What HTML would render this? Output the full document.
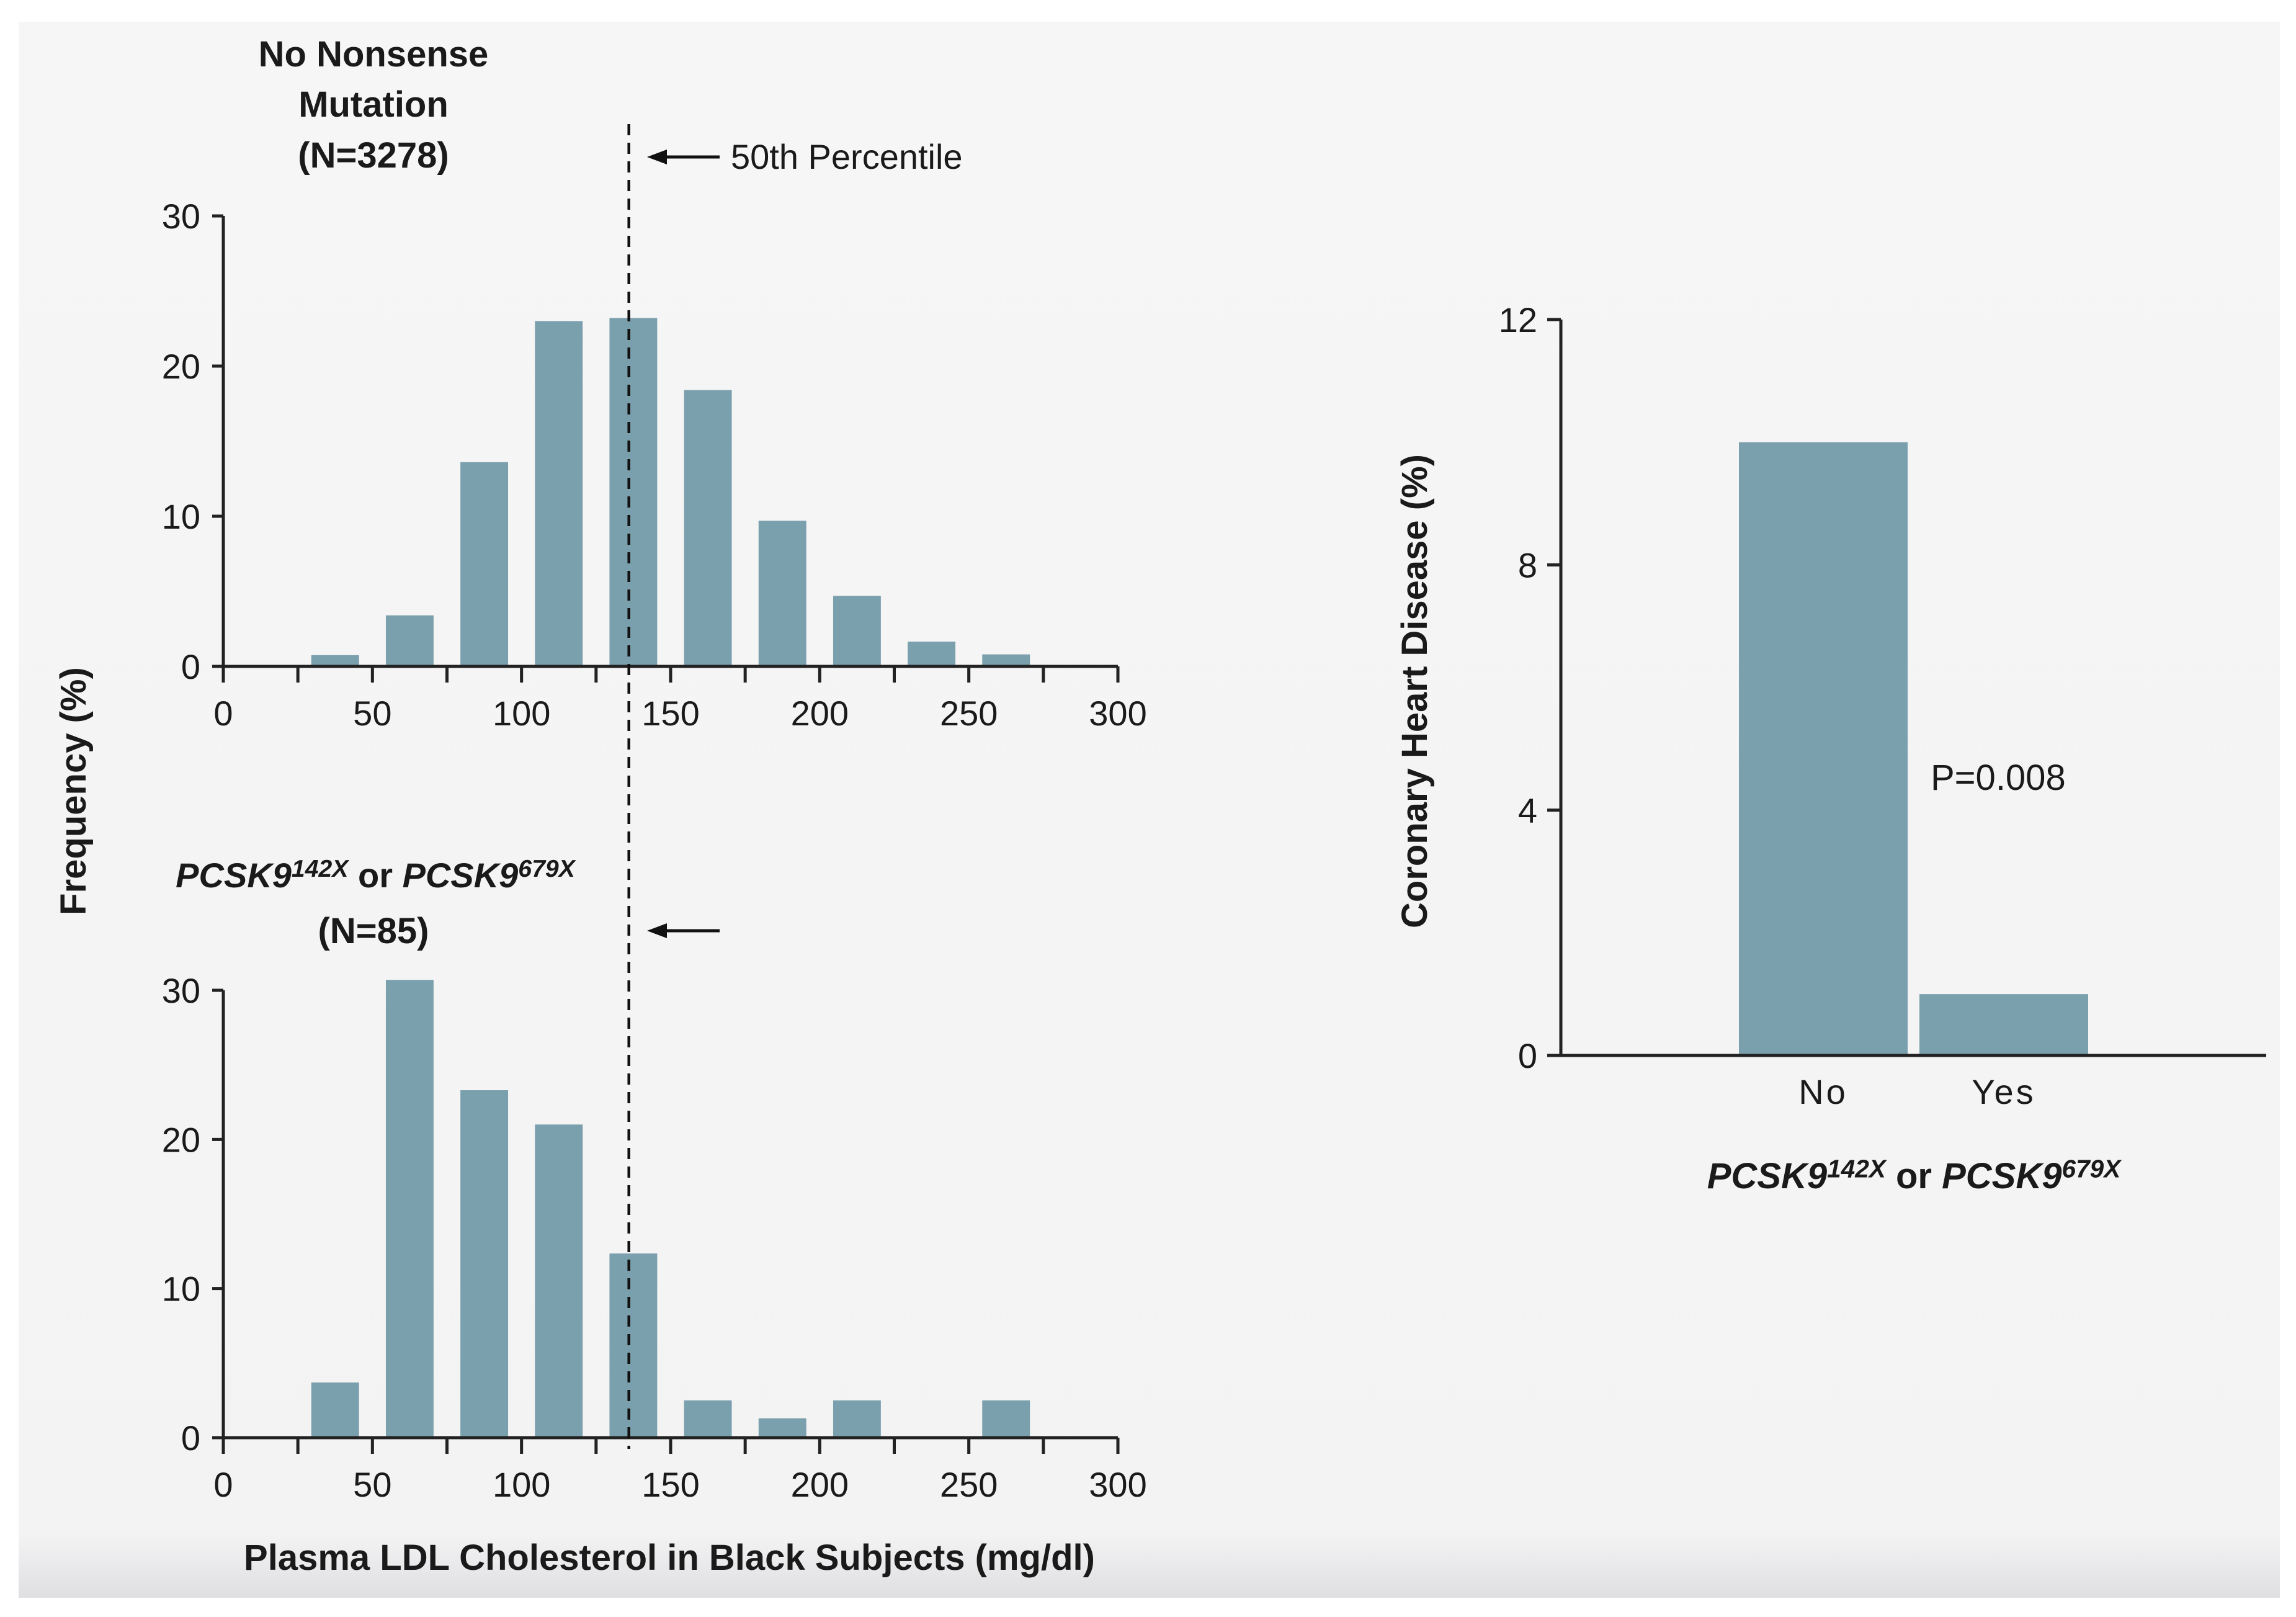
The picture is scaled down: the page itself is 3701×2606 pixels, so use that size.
<!DOCTYPE html>
<html><head><meta charset="utf-8"><style>
html,body{margin:0;padding:0;background:#fff;}
svg{display:block;}
text{font-family:"Liberation Sans",sans-serif;fill:#1a1a1a;}
</style></head><body>
<svg id="fig" width="3701" height="2606" viewBox="0 0 3701 2606">
<defs>
<linearGradient id="shade" x1="0" y1="0" x2="0" y2="1">
<stop offset="0" stop-color="#f6f6f6"/><stop offset="0.96" stop-color="#f3f3f4"/><stop offset="1" stop-color="#dfdfe2"/>
</linearGradient>
</defs>
<rect x="30" y="35" width="3645" height="2540" fill="url(#shade)"/>
<g id="g"></g>
</svg>
<script>
// Histogram categories (bin centers, mg/dl)
const binCenters = [37.5, 62.5, 87.5, 112.5, 137.5, 162.5, 187.5, 212.5, 237.5, 262.5];
const noMutationFreq = [0.75, 3.4, 13.6, 23.0, 23.2, 18.4, 9.7, 4.7, 1.65, 0.8];
const mutationFreq = [3.7, 30.7, 23.3, 21.0, 12.35, 2.5, 1.3, 2.5, 0, 2.5];
const xTicks = [0, 50, 100, 150, 200, 250, 300];
const yTicksFreq = [0, 10, 20, 30];
const median = 136;
// Right chart
const chdCategories = ["No", "Yes"];
const chdValues = [10.0, 1.0];
const yTicksChd = [0, 4, 8, 12];

const NS = "http://www.w3.org/2000/svg";
const G = document.getElementById('g');
const BAR = "#7a9fad";
function el(tag, attrs, parent, txt){
  const e = document.createElementNS(NS, tag);
  for (const k in attrs) e.setAttribute(k, attrs[k]);
  if (txt !== undefined) e.textContent = txt;
  (parent || G).appendChild(e);
  return e;
}

function histogram(name, y0, y30, values){
  const g = el('g', {});
  
  
  const xs = v => 360 + (v / 300) * 1442;
  const ys = v => y0 - (v / 30) * (y0 - y30);
  const binW = 16 * 1442 / 300;
  binCenters.forEach((c, i) => {
    const h = values[i];
    if (h <= 0) return;
    const r = el('rect', {x: xs(c) - binW/2, y: ys(h), width: binW, height: y0 - ys(h), fill: BAR}, g);
    
    
  });
  const ax = el('path', {d: `M${xs(0)},${y30} V${y0+2} M${xs(0)-18},${y0} H${xs(300)}`, stroke:'#222', 'stroke-width':5, fill:'none'}, g);
  
  
  for (let v = 0; v <= 300; v += 25){
    el('line', {x1: xs(v), x2: xs(v), y1: y0, y2: y0 + 26, stroke:'#222', 'stroke-width':5}, g);
  }
  xTicks.forEach(v => {
    const t = el('text', {x: xs(v), y: y0 + 95, 'font-size': 56, 'text-anchor':'middle'}, g, String(v));
    
    
  });
  yTicksFreq.forEach(v => {
    el('line', {x1: xs(0) - 18, x2: xs(0), y1: ys(v), y2: ys(v), stroke:'#222', 'stroke-width':5}, g);
    const t = el('text', {x: 323, y: ys(v) + 20, 'font-size': 56, 'text-anchor':'end'}, g, String(v));
    
    
  });
  return xs;
}

const xsTop = histogram('histogram-no-mutation', 1074, 348, noMutationFreq);
histogram('histogram-nonsense-mutation', 2317, 1596, mutationFreq);

const md = el('line', {x1: xsTop(median), x2: xsTop(median), y1: 200, y2: 2335, stroke:'#111', 'stroke-width':4.5, 'stroke-dasharray':'18,12'});


function arrow(y){
  const a = el('g', {});
  
  
  el('line', {x1: 1065, x2: 1160, y1: y, y2: y, stroke:'#111', 'stroke-width':5}, a);
  el('path', {d:`M1043,${y} L1075,${y-12} L1075,${y+12} Z`, fill:'#111'}, a);
}
arrow(253); arrow(1500);
let t = el('text', {x:1178, y:272, 'font-size':56}, G, '50th Percentile');



const tt = el('text', {x:602, 'font-size':58, 'font-weight':'bold', 'text-anchor':'middle'});


el('tspan', {x:602, y:107}, tt, 'No Nonsense');
el('tspan', {x:602, y:188}, tt, 'Mutation');
el('tspan', {x:602, y:270}, tt, '(N=3278)');

function pcsk(x, y, size, name){
  const e = el('text', {x:x, y:y, 'font-size':size, 'font-weight':'bold', 'text-anchor':'middle'});
  
  
  el('tspan', {'font-style':'italic'}, e, 'PCSK9');
  el('tspan', {'font-style':'italic', 'font-size': size*0.7, dy: -size*0.3}, e, '142X');
  el('tspan', {dy: size*0.3}, e, ' or ');
  el('tspan', {'font-style':'italic'}, e, 'PCSK9');
  el('tspan', {'font-style':'italic', 'font-size': size*0.7, dy: -size*0.3}, e, '679X');
}
pcsk(605, 1430, 56, 'title-mutation');
t = el('text', {x:602, y:1520, 'font-size':58, 'font-weight':'bold', 'text-anchor':'middle'}, G, '(N=85)');



t = el('text', {x:1079, y:2530, 'font-size':58, 'font-weight':'bold', 'text-anchor':'middle'}, G, 'Plasma LDL Cholesterol in Black Subjects (mg/dl)');


t = el('text', {x:0, y:0, 'font-size':58, 'font-weight':'bold', 'text-anchor':'middle', transform:'translate(138,1275) rotate(-90)'}, G, 'Frequency (%)');



(function(){
  const g = el('g', {});
  
  
  const y0 = 1701, y12 = 515, xAxis = 2516;
  const ys = v => y0 - (v / 12) * (y0 - y12);
  const centers = [2939, 3230];
  const bw = 272;
  chdCategories.forEach((c, i) => {
    const r = el('rect', {x: centers[i] - bw/2, y: ys(chdValues[i]), width: bw, height: y0 - ys(chdValues[i]), fill: BAR}, g);
    
    
    const l = el('text', {x: centers[i], y: y0 + 78, 'font-size':56, 'text-anchor':'middle', 'letter-spacing':4}, g, c);
    
    
  });
  el('path', {d:`M${xAxis},${y12} V${y0+2} M${xAxis-22},${y0} H3653`, stroke:'#222', 'stroke-width':5, fill:'none'}, g);
  yTicksChd.forEach(v => {
    el('line', {x1: xAxis-22, x2: xAxis, y1: ys(v), y2: ys(v), stroke:'#222', 'stroke-width':5}, g);
    const l = el('text', {x: 2478, y: ys(v) + 20, 'font-size':56, 'text-anchor':'end'}, g, String(v));
    
    
  });
  const p = el('text', {x:3112, y:1273, 'font-size':58}, g, 'P=0.008');
  
  
  const yt = el('text', {x:0, y:0, 'font-size':58, 'font-weight':'bold', 'text-anchor':'middle', transform:'translate(2300,1114) rotate(-90)'}, g, 'Coronary Heart Disease (%)');
  
  
})();
pcsk(3085, 1915, 58, 'chd-x-axis-title');
</script>
</body></html>
